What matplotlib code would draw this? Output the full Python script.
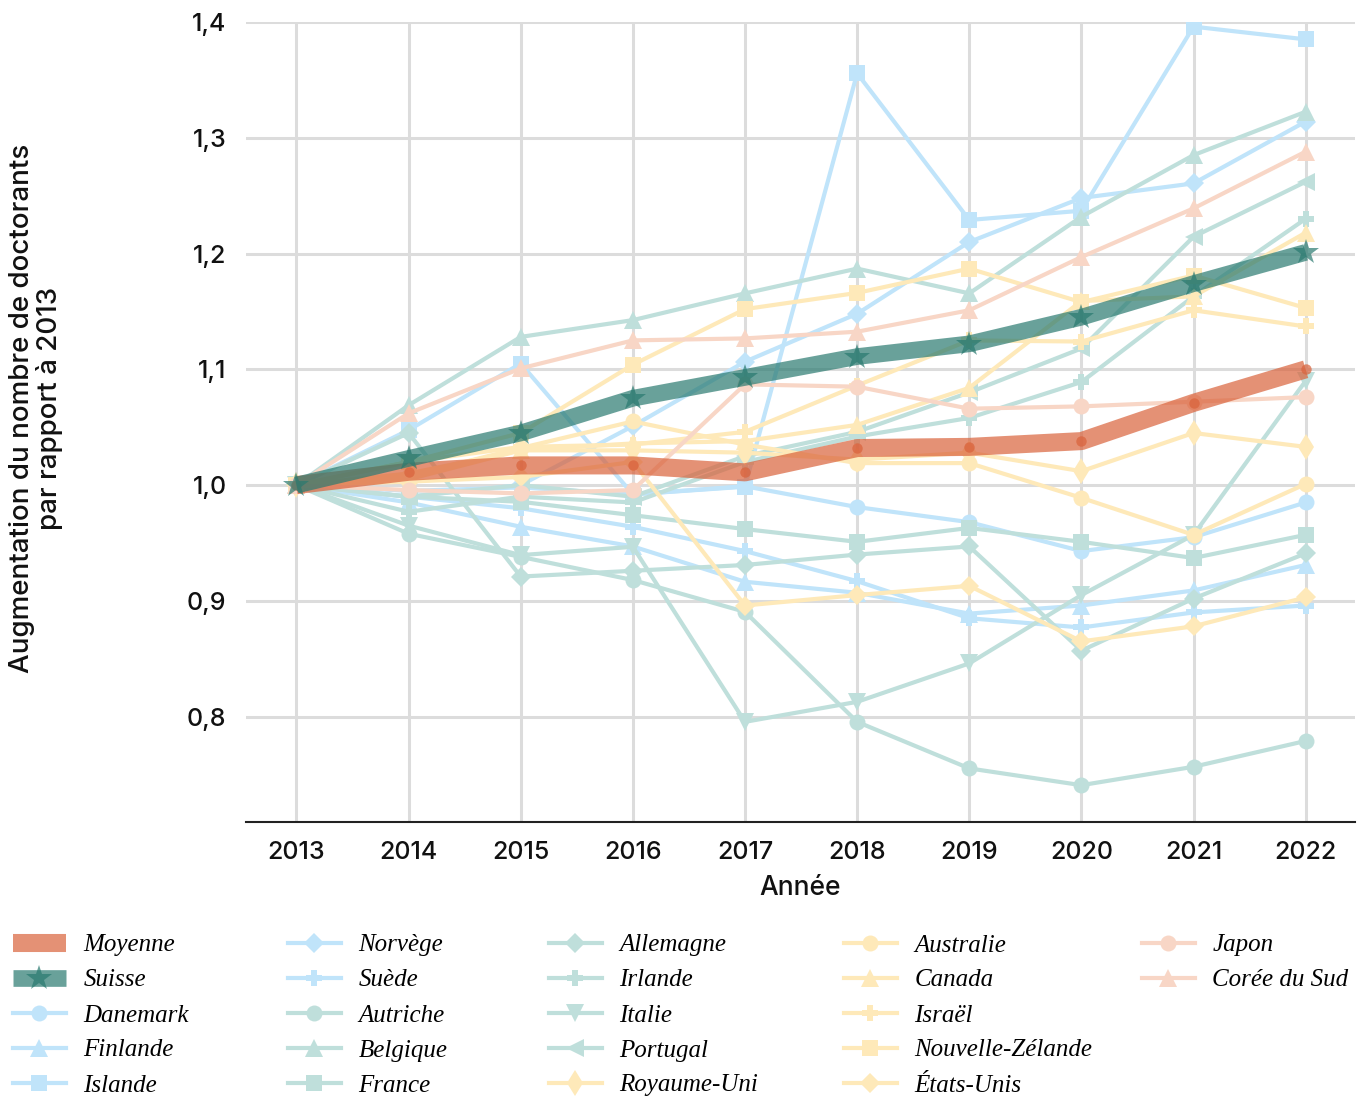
import matplotlib
matplotlib.use("Agg")
import matplotlib.pyplot as plt
from matplotlib.lines import Line2D
from matplotlib.ticker import FuncFormatter

years = [2013, 2014, 2015, 2016, 2017, 2018, 2019, 2020, 2021, 2022]

moyenne = [1.0, 1.0115, 1.017, 1.017, 1.011, 1.032, 1.033, 1.038, 1.071, 1.100]
suisse = [1.0, 1.023, 1.045, 1.075, 1.093, 1.111, 1.122, 1.145, 1.174, 1.201]

danemark = [1.0, 0.995, 0.998, 0.992, 0.999, 0.981, 0.968, 0.943, 0.955, 0.985]
finlande = [1.0, 0.985, 0.964, 0.947, 0.9165, 0.907, 0.889, 0.896, 0.909, 0.931]
islande = [1.0, 1.0475, 1.105, 0.992, 0.9986, 1.3557, 1.229, 1.237, 1.396, 1.385]
norvege = [1.0, 0.99, 1.0, 1.051, 1.1066, 1.148, 1.210, 1.248, 1.2606, 1.314]
suede = [1.0, 0.99, 0.98, 0.964, 0.943, 0.917, 0.885, 0.877, 0.890, 0.896]

autriche = [1.0, 0.958, 0.938, 0.918, 0.8905, 0.7955, 0.7553, 0.7408, 0.7567, 0.779]
belgique = [1.0, 1.069, 1.128, 1.1425, 1.1656, 1.187, 1.1656, 1.2318, 1.285, 1.3225]
france = [1.0, 0.99, 0.9856, 0.974, 0.962, 0.951, 0.963, 0.951, 0.937, 0.957]
allemagne = [1.0, 1.045, 0.921, 0.926, 0.931, 0.940, 0.947, 0.857, 0.902, 0.941]
irlande = [1.0, 0.977, 0.99, 0.985, 1.020, 1.042, 1.058, 1.089, 1.163, 1.230]
italie = [1.0, 0.965, 0.9395, 0.9467, 0.7955, 0.8128, 0.846, 0.905, 0.957, 1.090]
portugal = [1.0, 0.99, 1.0, 0.99, 1.025, 1.046, 1.080, 1.118, 1.2145, 1.262]
royaume_uni = [1.0, 1.005, 1.03, 1.03, 1.028, 1.022, 1.028, 1.012, 1.045, 1.033]

australie = [1.0, 1.008, 1.032, 1.055, 1.035, 1.019, 1.019, 0.989, 0.957, 1.001]
canada = [1.0, 1.01, 1.03, 1.036, 1.038, 1.052, 1.084, 1.159, 1.163, 1.218]
israel = [1.0, 1.02, 1.033, 1.035, 1.046, 1.086, 1.125, 1.124, 1.151, 1.137]
nouvelle_zelande = [1.0, 1.02, 1.045, 1.104, 1.152, 1.166, 1.187, 1.158, 1.181, 1.153]
etats_unis = [1.0, 1.003, 1.007, 1.02, 0.896, 0.905, 0.913, 0.865, 0.878, 0.903]

japon = [1.0, 0.9957, 0.9928, 0.9957, 1.087, 1.085, 1.066, 1.068, 1.072, 1.076]
coree = [1.0, 1.062, 1.1008, 1.125, 1.1267, 1.1325, 1.151, 1.197, 1.239, 1.288]

y_ticks = [0.8, 0.9, 1.0, 1.1, 1.2, 1.3, 1.4]

BLUE = "#c0e4fa"
TEAL = "#bfdfdb"
YELLOW = "#fee9b9"
PEACH = "#f8d6c6"

countries = [
    ("Danemark", danemark, BLUE, "o"),
    ("Finlande", finlande, BLUE, "^"),
    ("Islande", islande, BLUE, "s"),
    ("Norvège", norvege, BLUE, "D"),
    ("Suède", suede, BLUE, "P"),
    ("Autriche", autriche, TEAL, "o"),
    ("Belgique", belgique, TEAL, "^"),
    ("France", france, TEAL, "s"),
    ("Allemagne", allemagne, TEAL, "D"),
    ("Irlande", irlande, TEAL, "P"),
    ("Italie", italie, TEAL, "v"),
    ("Portugal", portugal, TEAL, "<"),
    ("Royaume-Uni", royaume_uni, YELLOW, "d"),
    ("Australie", australie, YELLOW, "o"),
    ("Canada", canada, YELLOW, "^"),
    ("Israël", israel, YELLOW, "P"),
    ("Nouvelle-Zélande", nouvelle_zelande, YELLOW, "s"),
    ("États-Unis", etats_unis, YELLOW, "D"),
    ("Japon", japon, PEACH, "o"),
    ("Corée du Sud", coree, PEACH, "^"),
]

msize = {"o": 11.5, "^": 12.5, "s": 11, "D": 10, "P": 12, "v": 12.5, "<": 12.5, "d": 13}

fig = plt.figure(figsize=(13.68, 10.97), dpi=100)
ax = fig.add_axes([246 / 1368, 1 - 822 / 1097, (1355 - 246) / 1368, (822 - 22) / 1097])

handles = {}
for name, vals, col, mk in countries:
    h, = ax.plot(years, vals, color=col, lw=3.0, marker=mk, ms=msize[mk],
                 markeredgewidth=0, solid_joinstyle="round", zorder=3)
    handles[name] = h

h_moy, = ax.plot(years, moyenne, color="#d9623b", alpha=0.7, lw=13, marker="o", ms=7.5,
                 markeredgewidth=0, solid_capstyle="butt", zorder=5)
h_sui, = ax.plot(years, suisse, color="#2a7a70", alpha=0.7, lw=12, marker="*", ms=19,
                 markeredgewidth=0, solid_capstyle="butt", zorder=6)

ax.set_xlim(2012.55, 2022.44)
ax.set_ylim(0.709, 1.4)
ax.set_yticks(y_ticks)
ax.set_xticks(years)
ax.yaxis.set_major_formatter(FuncFormatter(lambda v, p: f"{v:.1f}".replace(".", ",")))
ax.grid(True, color="#dcdcdc", lw=2.2, zorder=0)
ax.set_axisbelow(True)
for s in ["left", "right", "top"]:
    ax.spines[s].set_visible(False)
ax.spines["bottom"].set_color("#222222")
ax.spines["bottom"].set_linewidth(1.5)
ax.tick_params(axis="both", length=0, labelsize=18, colors="#111111")
ax.tick_params(axis="x", pad=14)
ax.tick_params(axis="y", pad=14)
for lab in ax.get_xticklabels() + ax.get_yticklabels():
    lab.set_fontfamily("Inter")
    lab.set_fontweight("medium")

ax.set_xlabel("Année", fontsize=19, family="Inter", fontweight="medium", labelpad=7.5, color="#111111")
fig.text(36 / 1368, 1 - 408 / 1097, "Augmentation du nombre de doctorants\npar rapport à 2013",
         rotation=90, ha="center", va="center", fontsize=20, family="Inter",
         fontweight="medium", linespacing=1.05, color="#111111")

# Legend in five columns
h_moy_leg = Line2D([], [], color="#d9623b", alpha=0.7, lw=13, solid_capstyle="butt")
h_sui_leg = Line2D([], [], color="#2a7a70", alpha=0.7, lw=12, marker="*", ms=19,
                   markeredgewidth=0, solid_capstyle="butt")
columns = [
    [(h_moy_leg, "Moyenne"), (h_sui_leg, "Suisse"), (handles["Danemark"], "Danemark"),
     (handles["Finlande"], "Finlande"), (handles["Islande"], "Islande")],
    [(handles[n], n) for n in ["Norvège", "Suède", "Autriche", "Belgique", "France"]],
    [(handles[n], n) for n in ["Allemagne", "Irlande", "Italie", "Portugal", "Royaume-Uni"]],
    [(handles[n], n) for n in ["Australie", "Canada", "Israël", "Nouvelle-Zélande", "États-Unis"]],
    [(handles[n], n) for n in ["Japon", "Corée du Sud"]],
]
col_x = [13, 288, 549, 844, 1142]
for cx, entries in zip(col_x, columns):
    fig.legend([e[0] for e in entries], [e[1] for e in entries],
               loc="upper left", bbox_to_anchor=(cx / 1368, 1 - 934 / 1097),
               frameon=False, borderpad=0, borderaxespad=0,
               handlelength=2.1, handletextpad=0.72, labelspacing=0.5,
               prop={"family": "Liberation Serif", "style": "italic", "size": 18})

fig.savefig("out.png", dpi=100)
